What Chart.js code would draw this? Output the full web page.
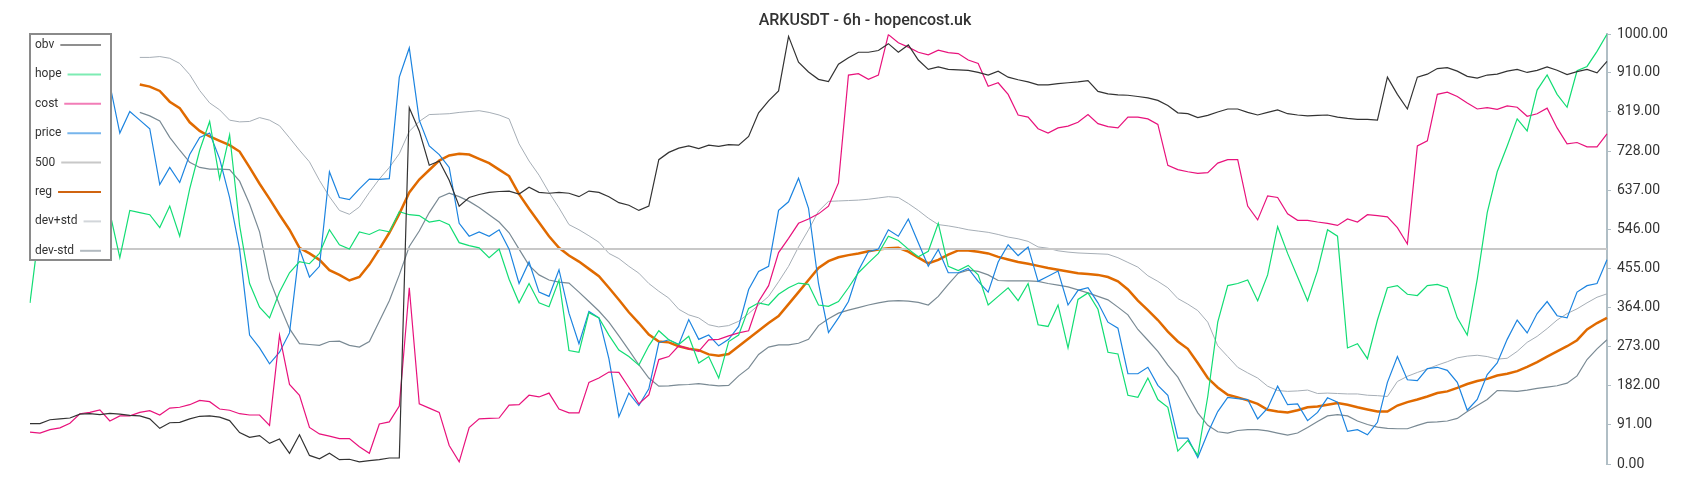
<!DOCTYPE html>
<html>
<head>
<meta charset="utf-8">
<title>ARKUSDT - 6h - hopencost.uk</title>
<script src="https://cdn.jsdelivr.net/npm/chart.js@4.4.1/dist/chart.umd.min.js"></script>
<style>
  html, body { margin: 0; padding: 0; background: #fff; }
  #chart { display: block; }
</style>
</head>
<body>
<canvas id="chart" width="1700" height="500"></canvas>
<script>
// values, one point every ~10px
const obv = [
  94, 94, 103, 105, 107, 116, 117, 115, 118, 116,
  113, 112, 105, 83, 96, 97, 105, 111, 112, 109,
  101, 73, 62, 66, 48, 58, 25, 68, 20, 12,
  25, 10, 11, 5, 8, 10, 14, 14, 829, 775,
  695, 705, 660, 600, 620, 627, 632, 634, 635, 628,
  644, 632, 630, 632, 630, 622, 635, 632, 622, 608,
  602, 590, 600, 708, 725, 735, 740, 734, 742, 739,
  743, 742, 762, 817, 845, 868, 995, 935, 912, 895,
  890, 930, 945, 958, 958, 962, 978, 958, 975, 940,
  918, 924, 918, 917, 916, 911, 905, 914, 900, 894,
  889, 882, 882, 885, 887, 889, 892, 867, 861, 859,
  858, 855, 852, 846, 834, 817, 815, 806, 811, 819,
  826, 826, 818, 812, 818, 824, 815, 812, 810, 811,
  812, 807, 804, 802, 802, 800, 900, 860, 826, 900,
  907, 920, 922, 914, 902, 898, 905, 907, 914, 918,
  911, 916, 924, 916, 906, 913, 918, 910, 937
];

const hope = [
  375, 560, 590, 600, 580, 590, 600, 590, 585, 480,
  590, 585, 580, 550, 600, 530, 640, 730, 797, 663,
  766, 555, 420, 365, 340, 400, 445, 471, 466, 490,
  545, 510, 500, 540, 534, 545, 540, 587, 580, 578,
  563, 567, 557, 515, 508, 503, 480, 500, 430, 375,
  420, 375, 366, 428, 264, 260, 352, 340, 300, 265,
  250, 230, 275, 310, 289, 278, 297, 235, 250, 200,
  285, 300, 362, 375, 370, 395, 410, 421, 418, 370,
  367, 378, 410, 445, 468, 490, 530, 520, 500, 482,
  495, 560, 460, 450, 462, 440, 370, 390, 410, 380,
  420, 324, 320, 370, 270, 383, 398, 360, 260, 256,
  160, 155, 200, 150, 132, 30, 55, 20, 157, 330,
  415, 420, 428, 380, 440, 552, 490, 435, 380, 450,
  545, 530, 270, 280, 245, 335, 410, 415, 395, 392,
  415, 418, 410, 340, 300, 430, 585, 680, 740, 803,
  775, 870, 905, 860, 830, 915, 925, 960, 1000
];

const cost = [
  74, 72, 80, 84, 95, 117, 120, 126, 100, 112,
  112, 120, 124, 114, 130, 132, 138, 148, 145, 128,
  125, 117, 114, 114, 90, 300, 185, 160, 85, 70,
  65, 59, 59, 40, 25, 93, 98, 135, 410, 140,
  130, 120, 43, 5, 85, 105, 106, 107, 137, 138,
  160, 156, 165, 128, 119, 119, 190, 200, 214, 213,
  178, 140, 161, 243, 250, 275, 268, 262, 289, 290,
  298, 305, 310, 378, 415, 492, 525, 560, 570, 582,
  600, 654, 905, 908, 895, 905, 999, 980, 970, 958,
  952, 963, 957, 955, 940, 932, 879, 887, 860, 812,
  807, 780, 770, 782, 786, 795, 813, 792, 785, 782,
  807, 807, 803, 790, 695, 685, 680, 676, 678, 700,
  708, 708, 600, 568, 624, 620, 582, 567, 567, 563,
  560, 555, 570, 563, 580, 578, 575, 550, 512, 740,
  752, 860, 865, 855, 840, 826, 829, 825, 833, 830,
  809, 815, 828, 782, 745, 748, 738, 738, 768
];

const price = [
  850, 860, 840, 870, 850, 880, 860, 875, 883, 770,
  820, 800, 780, 650, 690, 655, 720, 760, 770, 710,
  620, 500, 300, 270, 233, 260, 305, 500, 435, 460,
  680, 620, 615, 640, 663, 662, 664, 900, 968, 800,
  740, 720, 690, 560, 530, 540, 530, 545, 500, 420,
  470, 400, 390, 452, 351, 280, 355, 340, 245, 110,
  165, 136, 175, 282, 289, 278, 336, 290, 300, 275,
  290, 320, 406, 448, 460, 590, 610, 665, 595, 420,
  306, 340, 378, 450, 494, 500, 545, 530, 570, 515,
  460, 499, 445, 445, 455, 425, 400, 470, 510, 485,
  505, 425, 437, 449, 370, 404, 410, 375, 330, 316,
  210, 210, 225, 183, 160, 60, 60, 15, 72, 122,
  155, 152, 150, 105, 130, 181, 138, 140, 101, 120,
  154, 144, 76, 80, 68, 97, 190, 250, 196, 194,
  222, 225, 218, 190, 125, 150, 208, 235, 290, 335,
  305, 350, 378, 345, 340, 400, 415, 420, 475
];

const level500 = obv.map(() => 500);

const reg = [
  null, null, null, null, null, null, null, null, null, null,
  null, 883, 878, 868, 843, 828, 795, 775, 762, 752,
  742, 727, 690, 652, 617, 580, 545, 503, 490, 475,
  451, 440, 427, 435, 464, 500, 538, 582, 632, 662,
  684, 706, 718, 722, 720, 710, 700, 685, 670, 628,
  594, 562, 530, 503, 485, 471, 454, 437, 410, 382,
  353, 328, 301, 285, 283, 274, 268, 265, 255, 252,
  256, 274, 292, 310, 328, 344, 372, 400, 428, 456,
  472, 481, 486, 490, 495, 499, 502, 503, 494, 480,
  467, 475, 487, 497, 497, 494, 490, 482, 476, 470,
  466, 461, 456, 452, 448, 444, 442, 440, 435, 425,
  406, 380, 358, 335, 308, 285, 268, 235, 200, 178,
  161, 155, 148, 140, 126, 122, 120, 125, 132, 134,
  138, 142, 138, 132, 127, 122, 122, 136, 144, 150,
  157, 165, 169, 177, 186, 193, 198, 206, 210, 216,
  226, 237, 250, 262, 274, 288, 313, 328, 340
];

const devPlus = [
  null, null, null, null, null, null, null, null, null, null,
  null, 946, 946, 948, 944, 932, 906, 869, 840, 824,
  800, 796, 797, 806, 800, 787, 759, 730, 703, 660,
  622, 590, 581, 598, 632, 663, 690, 722, 774, 797,
  813, 814, 815, 818, 820, 822, 818, 812, 803, 745,
  705, 672, 632, 596, 557, 545, 531, 516, 490, 478,
  460, 444, 420, 402, 386, 360, 347, 340, 324, 319,
  322, 332, 350, 370, 390, 424, 460, 505, 545, 588,
  611, 612, 613, 614, 616, 619, 622, 620, 606, 590,
  572, 557, 554, 550, 545, 542, 539, 534, 528, 524,
  518, 505, 502, 496, 493, 491, 490, 489, 488, 480,
  469, 458, 438, 425, 410, 385, 372, 357, 330, 275,
  250, 225, 212, 200, 181, 171, 169, 170, 172, 164,
  165, 164, 163, 163, 160, 159, 157, 192, 204, 213,
  221, 230, 238, 247, 251, 253, 250, 244, 246, 262,
  283, 297, 315, 335, 350, 361, 375, 388, 396
];

const devMinus = [
  null, null, null, null, null, null, null, null, null, null,
  null, 818, 810, 798, 760, 730, 702, 690, 686, 686,
  685, 658, 605, 540, 430, 370, 315, 280, 278, 276,
  285, 286, 276, 272, 285, 332, 380, 440, 506, 542,
  585, 620, 630, 622, 611, 597, 580, 563, 538, 500,
  462, 440, 428, 423, 421, 400, 378, 356, 330, 298,
  265, 231, 200, 181, 182, 184, 185, 187, 184, 182,
  183, 205, 223, 255, 272, 277, 277, 281, 290, 322,
  338, 351, 358, 364, 370, 375, 379, 380, 379, 376,
  370, 390, 418, 444, 451, 448, 440, 427, 426, 426,
  426, 425, 420, 416, 412, 405, 398, 390, 382, 365,
  347, 313, 288, 262, 230, 202, 160, 119, 90, 75,
  72, 78, 80, 80, 77, 72, 67, 72, 85, 99,
  112, 115, 112, 100, 92, 86, 83, 82, 82, 90,
  97, 98, 100, 106, 122, 136, 150, 171, 170, 169,
  172, 176, 179, 182, 188, 205, 243, 268, 289
];

const steps = obv.map((_, i) => i);
const yTicks = [0, 91, 182, 273, 364, 455, 546, 637, 728, 819, 910, 1000];

function line(label, data, color, width, legendColor) {
  return {
    label: label,
    data: data,
    borderColor: color,
    backgroundColor: color,
    borderWidth: width,
    pointRadius: 0,
    pointHoverRadius: 0,
    tension: 0,
    fill: false,
    legendColor: legendColor
  };
}

// white legend box drawn over the top-left of the plot
const boxLegend = {
  id: 'boxLegend',
  afterDraw(chart) {
    const ctx = chart.ctx;
    const x = 30, y = 34, w = 81, h = 226;
    ctx.save();
    ctx.fillStyle = '#fff';
    ctx.fillRect(x, y, w, h);
    ctx.strokeStyle = '#8a8a8a';
    ctx.lineWidth = 2;
    ctx.strokeRect(x, y, w, h);
    ctx.font = '12px Roboto';
    ctx.textBaseline = 'middle';
    chart.data.datasets.forEach((ds, i) => {
      const ty = 45 + i * 29.4;
      ctx.fillStyle = '#333';
      ctx.fillText(ds.label, 35, ty);
      const tw = ctx.measureText(ds.label).width;
      ctx.strokeStyle = ds.legendColor;
      ctx.lineWidth = 2;
      ctx.beginPath();
      ctx.moveTo(35 + tw + 6, ty);
      ctx.lineTo(101, ty);
      ctx.stroke();
    });
    ctx.restore();
  }
};

new Chart(document.getElementById('chart'), {
  type: 'line',
  data: {
    labels: steps,
    datasets: [
      line('obv', obv, '#333333', 1.2, 'rgba(51,51,51,0.55)'),
      line('hope', hope, '#12dd74', 1.2, 'rgba(18,221,116,0.55)'),
      line('cost', cost, '#e8127c', 1.2, 'rgba(232,18,124,0.55)'),
      line('price', price, '#1c84e0', 1.2, 'rgba(28,132,224,0.6)'),
      line('500', level500, '#c8c8c8', 2, '#c8c8c8'),
      line('reg', reg, '#e06a00', 2.5, '#d06410'),
      line('dev+std', devPlus, '#a6aeb6', 1, '#d2d6da'),
      line('dev-std', devMinus, '#7a8a94', 1.2, '#b2bac0')
    ]
  },
  options: {
    responsive: false,
    animation: false,
    layout: {
      padding: { left: 30, right: 0, top: 0, bottom: 36 }
    },
    plugins: {
      legend: { display: false },
      tooltip: { enabled: false },
      title: {
        display: true,
        text: 'ARKUSDT - 6h - hopencost.uk',
        color: '#333',
        font: { family: 'Roboto', size: 16, weight: '500' },
        padding: { top: 11, bottom: 4 }
      }
    },
    scales: {
      x: {
        display: false
      },
      y: {
        position: 'right',
        min: 0,
        max: 1000,
        afterBuildTicks: (scale) => {
          scale.ticks = yTicks.map(v => ({ value: v }));
        },
        afterFit: (scale) => {
          scale.width = 93;
        },
        grid: {
          drawOnChartArea: false,
          drawTicks: true,
          tickLength: 4,
          color: '#b0bec5'
        },
        border: {
          display: true,
          color: '#b0bec5',
          width: 2
        },
        ticks: {
          padding: 6,
          color: '#333',
          font: { family: 'Roboto', size: 14 },
          callback: (value) => Number(value).toFixed(2)
        }
      }
    }
  },
  plugins: [boxLegend]
});
</script>
</body>
</html>
